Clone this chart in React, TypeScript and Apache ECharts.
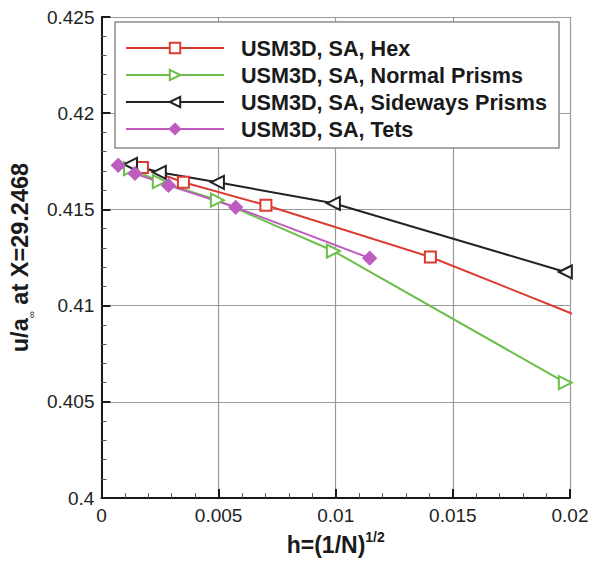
import React, { useEffect, useRef } from "react";
import * as echarts from "echarts";

const xTickLabels = ["0", "0.005", "0.01", "0.015", "0.02"];
const yTickLabels = ["0.4", "0.405", "0.41", "0.415", "0.42", "0.425"];

const seriesNames = [
  "USM3D, SA, Hex",
  "USM3D, SA, Normal Prisms",
  "USM3D, SA, Sideways Prisms",
  "USM3D, SA, Tets",
];

const hexH = [0.00175, 0.0035, 0.00702, 0.01404, 0.02808];
const hexU = [0.41718, 0.41641, 0.41522, 0.41253, 0.4057];

const normalH = [0.00124, 0.00247, 0.00495, 0.0099, 0.0198];
const normalU = [0.41712, 0.41645, 0.41548, 0.41284, 0.406];

const sidewaysH = [0.00124, 0.00247, 0.00495, 0.0099, 0.0198];
const sidewaysU = [0.41734, 0.41693, 0.41641, 0.41532, 0.41175];

const tetsH = [0.000716, 0.00143, 0.00286, 0.00573, 0.01145];
const tetsU = [0.41729, 0.41687, 0.41625, 0.41511, 0.41247];

const FONT = "Liberation Sans, Arial, sans-serif";

function pairs(h: number[], u: number[]) {
  return h.map((v, i) => [v, u[i]]);
}

export default function App() {
  const ref = useRef<HTMLDivElement>(null);
  useEffect(() => {
    if (!ref.current) return;
    const chart = echarts.init(ref.current, null, { renderer: "svg" });
    const mk = (
      name: string,
      data: number[][],
      color: string,
      symbol: string,
      size: number,
      rotate: number
    ) => ({
      name,
      type: "line",
      data,
      clip: true,
      symbol,
      symbolSize: size,
      symbolRotate: rotate,
      showAllSymbol: true,
      lineStyle: { color, width: 2 },
      itemStyle: { color, borderColor: color, borderWidth: 1.6 },
      emphasis: { disabled: true },
    });
    chart.setOption({
      animation: false,
      backgroundColor: "#ffffff",
      grid: { left: 100, right: 32, top: 17, bottom: 61, containLabel: false },
      graphic: [
        {
          type: "rect",
          z: 3,
          shape: { x: 115, y: 22, width: 444, height: 126 },
          style: { fill: "#ffffff", stroke: "#8c8c8c", lineWidth: 1.5 },
        },
      ],
      legend: {
        orient: "vertical",
        left: 125,
        top: 37,
        z: 5,
        padding: 0,
        itemWidth: 98,
        itemHeight: 13,
        itemGap: 5,
        selectedMode: false,
        data: seriesNames,
        textStyle: {
          fontFamily: FONT,
          fontSize: 21.6,
          fontWeight: "bold",
          color: "#1a1a1a",
          lineHeight: 22,
          padding: [0, 0, 0, 12],
        },
      },
      xAxis: {
        type: "value",
        min: 0,
        max: 0.02,
        interval: 0.005,
        name: "{b|h=(1/N)}{s|1/2}",
        nameLocation: "middle",
        nameGap: 31,
        nameTextStyle: {
          rich: {
            b: { fontFamily: FONT, fontSize: 23, fontWeight: "bold", color: "#1a1a1a", lineHeight: 26, verticalAlign: "bottom" },
            s: { fontFamily: FONT, fontSize: 14, fontWeight: "bold", color: "#1a1a1a", lineHeight: 26, verticalAlign: "top" },
          },
        },
        axisLine: { show: true, lineStyle: { color: "#1a1a1a", width: 2 } },
        axisTick: { show: true, inside: true, length: 9, lineStyle: { color: "#1a1a1a", width: 2 } },
        minorTick: { show: true, splitNumber: 5, length: 5, lineStyle: { color: "#555", width: 1 } },
        splitLine: { show: true, lineStyle: { color: "#9a9a9a", width: 1.2 } },
        axisLabel: {
          fontFamily: FONT,
          fontSize: 19,
          color: "#222",
          margin: 8,
          formatter: (_v: number, i: number) => xTickLabels[i] ?? "",
        },
      },
      yAxis: {
        type: "value",
        min: 0.4,
        max: 0.425,
        interval: 0.005,
        name: "{b|u/a}{s|∞}{b| at X=29.2468}",
        nameLocation: "middle",
        nameGap: 64,
        nameTextStyle: {
          rich: {
            b: { fontFamily: FONT, fontSize: 23.5, fontWeight: "bold", color: "#1a1a1a", lineHeight: 28, verticalAlign: "top" },
            s: { fontFamily: FONT, fontSize: 10, color: "#1a1a1a", lineHeight: 28, verticalAlign: "bottom" },
          },
        },
        axisLine: { show: true, lineStyle: { color: "#1a1a1a", width: 2 } },
        axisTick: { show: true, inside: true, length: 9, lineStyle: { color: "#1a1a1a", width: 2 } },
        minorTick: { show: true, splitNumber: 5, length: 5, lineStyle: { color: "#555", width: 1 } },
        splitLine: { show: true, lineStyle: { color: "#9a9a9a", width: 1.2 } },
        axisLabel: {
          fontFamily: FONT,
          fontSize: 19,
          color: "#222",
          margin: 7,
          formatter: (_v: number, i: number) => yTickLabels[i] ?? "",
        },
      },
      series: [
        mk(seriesNames[0], pairs(hexH, hexU), "#dc3b30", "emptyRect", 11, 0),
        mk(seriesNames[1], pairs(normalH, normalU), "#6cbf4a", "emptyTriangle", 13, -90),
        mk(seriesNames[2], pairs(sidewaysH, sidewaysU), "#222222", "emptyTriangle", 13, 90),
        mk(seriesNames[3], pairs(tetsH, tetsU), "#bf5cbf", "diamond", 13, 0),
      ],
    });
    return () => chart.dispose();
  }, []);
  return (
    <div
      ref={ref}
      style={{ position: "absolute", left: 0, top: 0, width: 602, height: 561 }}
    />
  );
}
